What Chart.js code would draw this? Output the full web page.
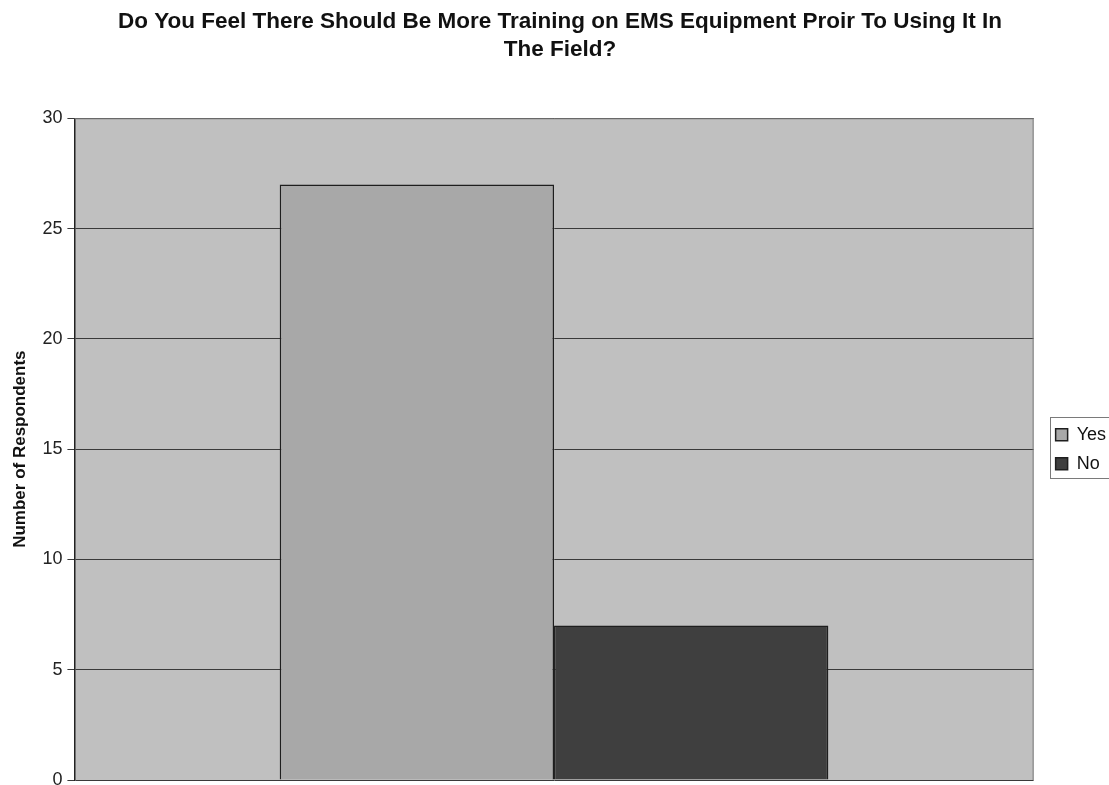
<!DOCTYPE html>
<html>
<head>
<meta charset="utf-8">
<script src="https://cdn.jsdelivr.net/npm/chart.js@4/dist/chart.umd.min.js"></script>
<style>
  html, body { margin: 0; padding: 0; background: #ffffff; overflow: hidden; }
  #wrap { width: 1109px; height: 785px; }
</style>
</head>
<body>
<div id="wrap"><canvas id="c" width="1109" height="785"></canvas></div>
<script>
const categories = [""];
const seriesNames = ["Yes", "No"];
const yesValues = [27];
const noValues = [7];
const yTicks = [0, 5, 10, 15, 20, 25, 30];
const titleLines = ["Do You Feel There Should Be More Training on EMS Equipment Proir To Using It In", "The Field?"];

const FONT = "Liberation Sans, Arial, sans-serif";

// gray plot area behind the bars, with its frame
const plotBackground = {
  id: "plotBackground",
  beforeDraw(chart) {
    const a = chart.chartArea, ctx = chart.ctx;
    ctx.save();
    ctx.fillStyle = "#c0c0c0";
    ctx.fillRect(a.left, a.top, a.right - a.left, a.bottom - a.top);
    ctx.restore();
  },
  afterDraw(chart) {
    const a = chart.chartArea, ctx = chart.ctx;
    ctx.save();
    ctx.strokeStyle = "#7a7a7a";
    ctx.lineWidth = 1;
    ctx.beginPath();
    ctx.moveTo(a.left, a.top + 0.5);
    ctx.lineTo(a.right - 0.5, a.top + 0.5);
    ctx.lineTo(a.right - 0.5, a.bottom);
    ctx.stroke();
    ctx.restore();
  }
};

// thin frame around the legend entries
const legendFrame = {
  id: "legendFrame",
  afterDraw(chart) {
    const l = chart.legend, ctx = chart.ctx;
    if (!l || !l.legendHitBoxes || !l.legendHitBoxes.length) return;
    const hb = l.legendHitBoxes;
    const first = hb[0], last = hb[hb.length - 1];
    const x0 = Math.round(first.left - 6) + 0.5;
    const y0 = Math.round(first.top - 9) + 0.5;
    const y1 = Math.round(last.top + last.height + 5) + 0.5;
    ctx.save();
    ctx.strokeStyle = "#7a7a7a";
    ctx.lineWidth = 1;
    ctx.strokeRect(x0, y0, chart.width + 10 - x0, y1 - y0);
    ctx.restore();
  }
};

new Chart(document.getElementById("c"), {
  type: "bar",
  data: {
    labels: categories,
    datasets: [
      { label: seriesNames[0], data: yesValues, backgroundColor: "#a8a8a8", borderColor: "#1e1e1e", borderWidth: 1.5, yAxisID: "y" },
      { label: seriesNames[1], data: noValues, backgroundColor: "#3f3f3f", borderColor: "#1e1e1e", borderWidth: 1.5, yAxisID: "y" }
    ]
  },
  options: {
    responsive: false,
    animation: false,
    layout: { padding: { left: 4, right: -7, top: 0, bottom: 0 } },
    datasets: { bar: { categoryPercentage: 0.572, barPercentage: 1.0 } },
    plugins: {
      title: {
        display: true,
        text: titleLines,
        color: "#111",
        font: { family: FONT, size: 22.5, weight: "bold", lineHeight: 1.25 },
        padding: { top: 8, bottom: 54 }
      },
      legend: {
        position: "right",
        align: "center",
        fullSize: false,
        labels: {
          color: "#111",
          boxWidth: 12,
          boxHeight: 12,
          padding: 11,
          font: { family: FONT, size: 18 }
        }
      },
      tooltip: { enabled: false }
    },
    scales: {
      x: { display: false },
      y: {
        min: 0,
        max: 30,
        afterBuildTicks(axis) { axis.ticks = yTicks.map(v => ({ value: v })); },
        ticks: {
          color: "#222",
          padding: 5,
          font: { family: FONT, size: 18, lineHeight: 0 }
        },
        grid: { color: "#3a3a3a", lineWidth: 1, tickLength: 7 },
        border: { display: true, color: "#222", width: 1.5 },
        title: {
          display: true,
          text: "Number of Respondents",
          color: "#111",
          padding: { top: 6, bottom: 7 },
          font: { family: FONT, size: 17, weight: "bold" }
        }
      },
      // spacer on the right edge of the plot, keeps a gap before the legend
      gap: {
        position: "right",
        display: true,
        min: 0,
        max: 1,
        ticks: { display: false },
        grid: { display: true, drawOnChartArea: false, drawTicks: true, tickLength: 11, color: "rgba(0,0,0,0)" },
        border: { display: false }
      }
    }
  },
  plugins: [plotBackground, legendFrame]
});
</script>
</body>
</html>
